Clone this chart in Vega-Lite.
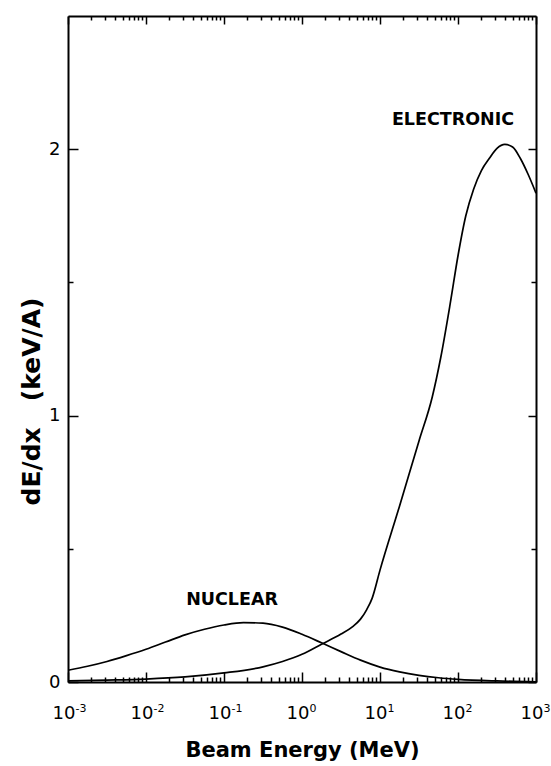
{
  "$schema": "https://vega.github.io/schema/vega-lite/v6.json",
  "width": 468,
  "height": 666,
  "autosize": {"type": "none"},
  "padding": {"left": 68, "top": 16, "right": 15, "bottom": 84},
  "background": "white",
  "config": {
    "view": {"stroke": null},
    "font": "DejaVu Sans",
    "axis": {
      "grid": false,
      "domainColor": "black",
      "domainWidth": 2,
      "tickColor": "black",
      "tickWidth": 1.5,
      "labelColor": "black",
      "titleColor": "black",
      "labelFont": "DejaVu Sans",
      "titleFont": "DejaVu Sans",
      "labelOverlap": false,
      "labelFlush": false,
      "labelBound": false
    }
  },
  "datasets": {
    "curves": [
      {"curve": "nuclear", "energy": 0.001, "dedx": 0.044},
      {"curve": "nuclear", "energy": 0.001778, "dedx": 0.059},
      {"curve": "nuclear", "energy": 0.003162, "dedx": 0.077},
      {"curve": "nuclear", "energy": 0.005623, "dedx": 0.099},
      {"curve": "nuclear", "energy": 0.01, "dedx": 0.123},
      {"curve": "nuclear", "energy": 0.01778, "dedx": 0.150},
      {"curve": "nuclear", "energy": 0.03162, "dedx": 0.177},
      {"curve": "nuclear", "energy": 0.05623, "dedx": 0.198},
      {"curve": "nuclear", "energy": 0.1, "dedx": 0.214},
      {"curve": "nuclear", "energy": 0.1778, "dedx": 0.223},
      {"curve": "nuclear", "energy": 0.3162, "dedx": 0.221},
      {"curve": "nuclear", "energy": 0.5623, "dedx": 0.206},
      {"curve": "nuclear", "energy": 1, "dedx": 0.179},
      {"curve": "nuclear", "energy": 1.778, "dedx": 0.147},
      {"curve": "nuclear", "energy": 3.162, "dedx": 0.114},
      {"curve": "nuclear", "energy": 5.623, "dedx": 0.082},
      {"curve": "nuclear", "energy": 10, "dedx": 0.056},
      {"curve": "nuclear", "energy": 17.78, "dedx": 0.038},
      {"curve": "nuclear", "energy": 31.62, "dedx": 0.025},
      {"curve": "nuclear", "energy": 56.23, "dedx": 0.016},
      {"curve": "nuclear", "energy": 100, "dedx": 0.010},
      {"curve": "nuclear", "energy": 316.2, "dedx": 0.004},
      {"curve": "nuclear", "energy": 1000, "dedx": 0.001},
      {"curve": "electronic", "energy": 0.001, "dedx": 0.004},
      {"curve": "electronic", "energy": 0.003162, "dedx": 0.007},
      {"curve": "electronic", "energy": 0.01, "dedx": 0.011},
      {"curve": "electronic", "energy": 0.03162, "dedx": 0.019},
      {"curve": "electronic", "energy": 0.1, "dedx": 0.034},
      {"curve": "electronic", "energy": 0.3162, "dedx": 0.057},
      {"curve": "electronic", "energy": 0.5623, "dedx": 0.077},
      {"curve": "electronic", "energy": 1, "dedx": 0.104},
      {"curve": "electronic", "energy": 1.778, "dedx": 0.142},
      {"curve": "electronic", "energy": 3.162, "dedx": 0.180},
      {"curve": "electronic", "energy": 4.467, "dedx": 0.208},
      {"curve": "electronic", "energy": 5.623, "dedx": 0.236},
      {"curve": "electronic", "energy": 6.761, "dedx": 0.272},
      {"curve": "electronic", "energy": 7.943, "dedx": 0.315},
      {"curve": "electronic", "energy": 10, "dedx": 0.420},
      {"curve": "electronic", "energy": 17.78, "dedx": 0.660},
      {"curve": "electronic", "energy": 31.62, "dedx": 0.905},
      {"curve": "electronic", "energy": 46.77, "dedx": 1.070},
      {"curve": "electronic", "energy": 60.26, "dedx": 1.220},
      {"curve": "electronic", "energy": 79.43, "dedx": 1.420},
      {"curve": "electronic", "energy": 100, "dedx": 1.600},
      {"curve": "electronic", "energy": 125.9, "dedx": 1.750},
      {"curve": "electronic", "energy": 158.5, "dedx": 1.850},
      {"curve": "electronic", "energy": 199.5, "dedx": 1.920},
      {"curve": "electronic", "energy": 251.2, "dedx": 1.965},
      {"curve": "electronic", "energy": 316.2, "dedx": 2.003},
      {"curve": "electronic", "energy": 398.1, "dedx": 2.018},
      {"curve": "electronic", "energy": 501.2, "dedx": 2.008},
      {"curve": "electronic", "energy": 631.0, "dedx": 1.965},
      {"curve": "electronic", "energy": 794.3, "dedx": 1.905},
      {"curve": "electronic", "energy": 1000, "dedx": 1.835}
    ],
    "labels": [
      {"label": "NUCLEAR", "energy": 0.1268, "dedx": 0.306},
      {"label": "ELECTRONIC", "energy": 86.3, "dedx": 2.11}
    ]
  },
  "layer": [
    {
      "data": {"name": "curves"},
      "mark": {"type": "line", "interpolate": "monotone", "color": "black", "strokeWidth": 1.7, "clip": true},
      "encoding": {
        "x": {
          "field": "energy",
          "type": "quantitative",
          "scale": {"type": "log", "domain": [0.001, 1000], "nice": false},
          "axis": {
            "orient": "bottom",
            "values": [0.001, 0.01, 0.1, 1, 10, 100, 1000],
            "ticks": false,
            "tickSize": 0,
            "domain": true,
            "labelExpr": "'10'",
            "labelAlign": "right",
            "labelOffset": 7,
            "labelPadding": 22,
            "labelFontSize": 18,
            "title": "Beam Energy (MeV)",
            "titleFontSize": 21,
            "titleFontWeight": "bold",
            "titleBaseline": "top",
            "titleY": 57
          }
        },
        "y": {
          "field": "dedx",
          "type": "quantitative",
          "scale": {"domain": [0, 2.5], "nice": false},
          "axis": {
            "orient": "left",
            "values": [0, 1, 2],
            "ticks": false,
            "tickSize": 0,
            "domain": true,
            "labelExpr": "'' + datum.value",
            "labelPadding": 8,
            "labelFontSize": 18,
            "title": "dE/dx\u00a0\u00a0\u00a0(keV/A)",
            "titleFontSize": 25,
            "titleFontWeight": "bold",
            "titleBaseline": "middle",
            "titleAlign": "center",
            "titleX": -37,
            "titleY": 385
          }
        },
        "detail": {"field": "curve", "type": "nominal"}
      }
    },
    {
      "data": {"name": "labels"},
      "mark": {"type": "text", "fontWeight": "bold", "fontSize": 17.5, "font": "DejaVu Sans", "color": "black", "align": "center", "baseline": "middle"},
      "encoding": {
        "x": {
          "field": "energy",
          "type": "quantitative",
          "scale": {"type": "log", "domain": [0.001, 1000], "nice": false},
          "axis": {
            "orient": "bottom",
            "values": [0.001, 0.01, 0.1, 1, 10, 100, 1000],
            "ticks": false,
            "tickSize": 0,
            "domain": false,
            "labelExpr": "'' + round(log(datum.value)/LN10)",
            "labelAlign": "left",
            "labelOffset": 7,
            "labelPadding": 20,
            "labelFontSize": 11,
            "title": null
          }
        },
        "y": {
          "field": "dedx",
          "type": "quantitative",
          "scale": {"domain": [0, 2.5], "nice": false},
          "axis": {
            "orient": "right",
            "offset": -468,
            "values": [0, 1, 2],
            "domain": false,
            "tickSize": 10,
            "labels": false,
            "title": null
          }
        },
        "text": {"field": "label", "type": "nominal"}
      }
    },
    {
      "data": {"name": "labels"},
      "mark": {"type": "point", "opacity": 0},
      "encoding": {
        "x": {
          "field": "energy",
          "type": "quantitative",
          "scale": {"type": "log", "domain": [0.001, 1000], "nice": false},
          "axis": {
            "orient": "top",
            "offset": -666,
            "values": [0.001, 0.01, 0.1, 1, 10, 100, 1000],
            "domain": false,
            "tickSize": 10,
            "labels": false,
            "title": null
          }
        },
        "y": {
          "field": "dedx",
          "type": "quantitative",
          "scale": {"domain": [0, 2.5], "nice": false},
          "axis": {
            "orient": "right",
            "offset": -468,
            "values": [0.5, 1.5],
            "domain": false,
            "tickSize": 5,
            "labels": false,
            "title": null
          }
        }
      }
    },
    {
      "data": {"name": "labels"},
      "mark": {"type": "point", "opacity": 0},
      "encoding": {
        "x": {
          "field": "energy",
          "type": "quantitative",
          "scale": {"type": "log", "domain": [0.001, 1000], "nice": false},
          "axis": {
            "orient": "top",
            "offset": -666,
            "values": [0.002,0.003,0.004,0.005,0.006,0.007,0.008,0.009,0.02,0.03,0.04,0.05,0.06,0.07,0.08,0.09,0.2,0.3,0.4,0.5,0.6,0.7,0.8,0.9,2,3,4,5,6,7,8,9,20,30,40,50,60,70,80,90,200,300,400,500,600,700,800,900],
            "domain": false,
            "tickSize": 5,
            "labels": false,
            "title": null
          }
        },
        "y": {
          "field": "dedx",
          "type": "quantitative",
          "scale": {"domain": [0, 2.5], "nice": false},
          "axis": {
            "orient": "left",
            "offset": -468,
            "values": [0, 1, 2],
            "domain": true,
            "tickSize": 8,
            "labels": false,
            "title": null
          }
        }
      }
    },
    {
      "data": {"name": "labels"},
      "mark": {"type": "point", "opacity": 0},
      "encoding": {
        "x": {
          "field": "energy",
          "type": "quantitative",
          "scale": {"type": "log", "domain": [0.001, 1000], "nice": false},
          "axis": {
            "orient": "bottom",
            "offset": -666,
            "values": [0.001, 0.01, 0.1, 1, 10, 100, 1000],
            "domain": true,
            "tickSize": 8,
            "labels": false,
            "title": null
          }
        },
        "y": {
          "field": "dedx",
          "type": "quantitative",
          "scale": {"domain": [0, 2.5], "nice": false},
          "axis": {
            "orient": "left",
            "offset": -468,
            "values": [0.5, 1.5],
            "domain": false,
            "tickSize": 5,
            "labels": false,
            "title": null
          }
        }
      }
    },
    {
      "data": {"name": "labels"},
      "mark": {"type": "point", "opacity": 0},
      "encoding": {
        "x": {
          "field": "energy",
          "type": "quantitative",
          "scale": {"type": "log", "domain": [0.001, 1000], "nice": false},
          "axis": {
            "orient": "bottom",
            "offset": -666,
            "values": [0.002,0.003,0.004,0.005,0.006,0.007,0.008,0.009,0.02,0.03,0.04,0.05,0.06,0.07,0.08,0.09,0.2,0.3,0.4,0.5,0.6,0.7,0.8,0.9,2,3,4,5,6,7,8,9,20,30,40,50,60,70,80,90,200,300,400,500,600,700,800,900],
            "domain": false,
            "tickSize": 4,
            "labels": false,
            "title": null
          }
        },
        "y": {
          "field": "dedx",
          "type": "quantitative",
          "scale": {"domain": [0, 2.5], "nice": false},
          "axis": null
        }
      }
    }
  ],
  "resolve": {"axis": {"x": "independent", "y": "independent"}}
}
